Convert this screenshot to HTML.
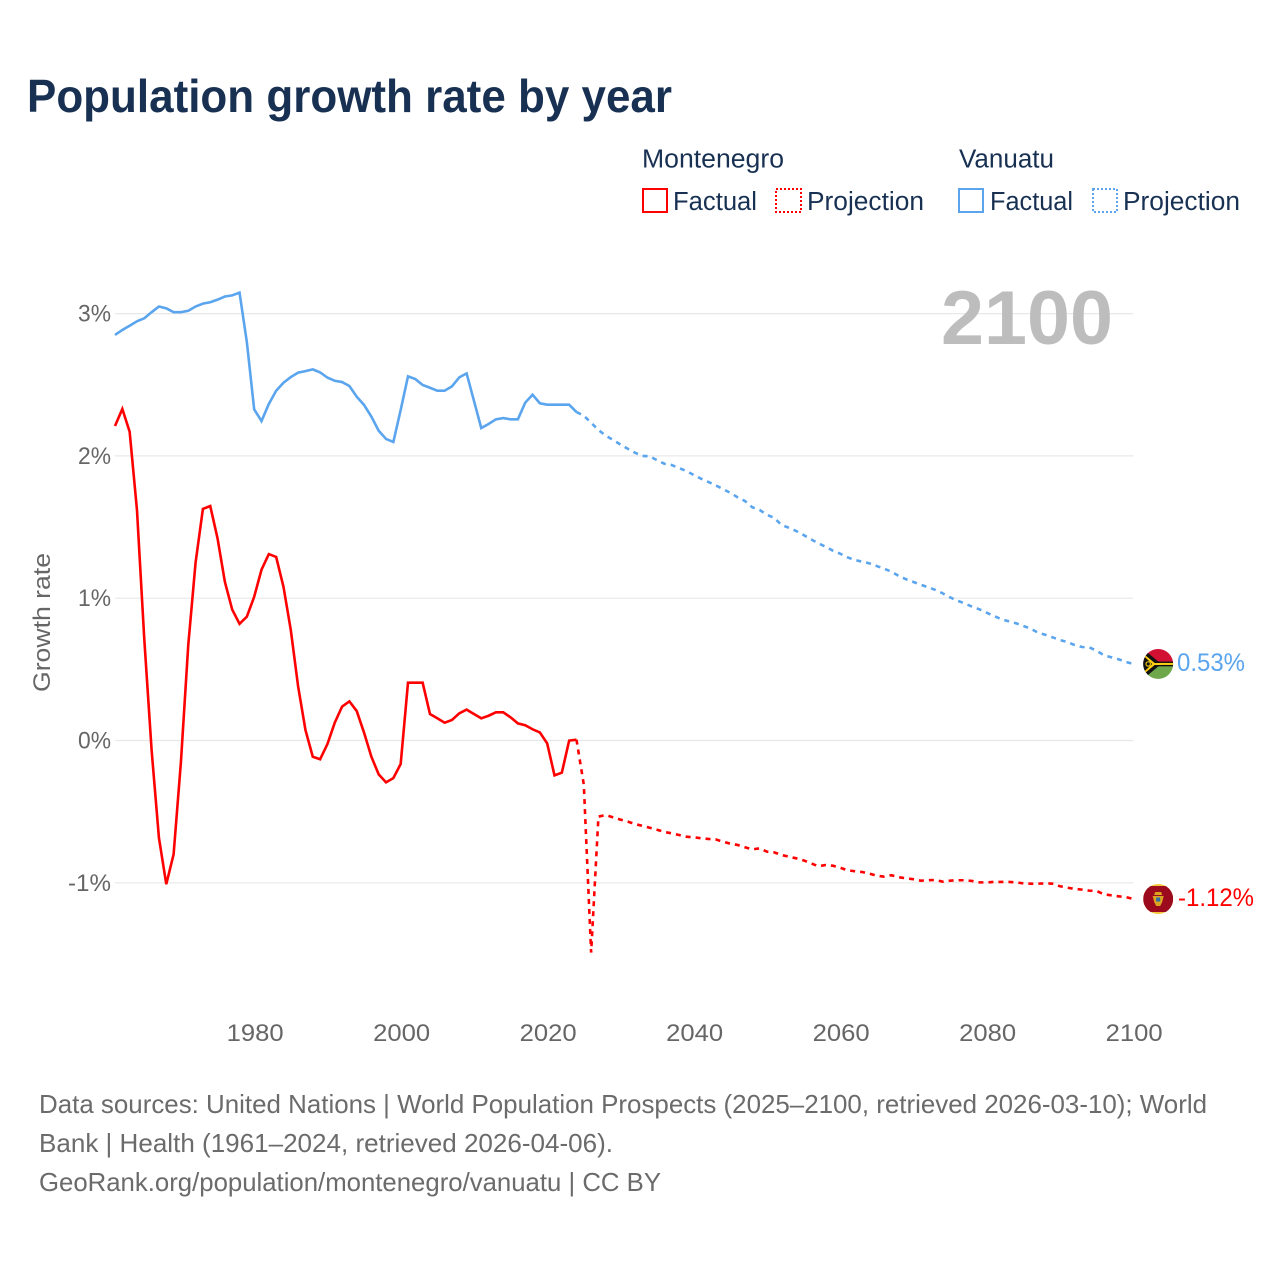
<!DOCTYPE html>
<html lang="en">
<head>
<meta charset="utf-8">
<title>Population growth rate by year</title>
<style>
html,body{margin:0;padding:0;background:#fff;}
svg{display:block;}
text{font-family:"Liberation Sans",sans-serif;}
</style>
</head>
<body>
<svg id="chart" xmlns="http://www.w3.org/2000/svg" width="1280" height="1280" viewBox="0 0 1280 1280">
  <rect x="0" y="0" width="1280" height="1280" fill="#ffffff"/>
  <text x="27" y="112" font-size="46" font-weight="700" fill="#183153" textLength="645" lengthAdjust="spacingAndGlyphs">Population growth rate by year</text>

  <g font-size="25.5" fill="#183153">
    <text x="642" y="167.5" textLength="142" lengthAdjust="spacingAndGlyphs">Montenegro</text>
    <rect x="643" y="189" width="24" height="23" fill="none" stroke="#ff0000" stroke-width="2"/>
    <text x="673" y="210" textLength="84" lengthAdjust="spacingAndGlyphs">Factual</text>
    <rect x="776" y="189" width="25" height="23" fill="none" stroke="#ff0000" stroke-width="2" stroke-dasharray="2 2"/>
    <text x="807" y="210" textLength="117" lengthAdjust="spacingAndGlyphs">Projection</text>
    <text x="959" y="167.5" textLength="95" lengthAdjust="spacingAndGlyphs">Vanuatu</text>
    <rect x="959" y="189" width="24" height="23" fill="none" stroke="#5ba5ee" stroke-width="2"/>
    <text x="990" y="210" textLength="83" lengthAdjust="spacingAndGlyphs">Factual</text>
    <rect x="1093" y="189" width="24" height="23" fill="none" stroke="#5ba5ee" stroke-width="2" stroke-dasharray="2 2"/>
    <text x="1123" y="210" textLength="117" lengthAdjust="spacingAndGlyphs">Projection</text>
  </g>

  <g id="grid"></g>
  <text x="941" y="344" font-size="76" font-weight="700" fill="#bdbdbd" textLength="172" lengthAdjust="spacingAndGlyphs">2100</text>
  <g id="yticks" font-size="24.5" fill="#666666" text-anchor="end"></g>
  <g id="xticks" font-size="24.5" fill="#666666" text-anchor="middle"></g>
  <text transform="translate(50,622.5) rotate(-90)" font-size="24.5" fill="#666666" text-anchor="middle" textLength="139" lengthAdjust="spacingAndGlyphs">Growth rate</text>

  <g id="series"></g>

  <defs>
    <clipPath id="flag-clip"><circle cx="0" cy="0" r="15"/></clipPath>
  </defs>
  <g id="flag-vanuatu">
    <g clip-path="url(#flag-clip)">
      <rect x="-15" y="-15" width="30" height="15" fill="#d21034"/>
      <rect x="-15" y="0" width="30" height="15" fill="#6fa84a"/>
      <rect x="-15" y="-2.4" width="30" height="4.8" fill="#111111"/>
      <rect x="-4" y="-1" width="19" height="2" fill="#fdce12"/>
      <path d="M-15 -15 L3 0 L-15 15 Z" fill="#111111"/>
      <path d="M-15 -10.5 L-3.5 -1 L3 -1 L3 1 L-3.5 1 L-15 10.5 L-15 8.5 L-6 0 L-15 -8.5 Z" fill="#fdce12"/>
      <circle cx="-10" cy="0" r="2.2" fill="none" stroke="#fdce12" stroke-width="1.1"/>
    </g>
  </g>
  <g id="flag-montenegro">
    <g clip-path="url(#flag-clip)">
      <rect x="-15" y="-15" width="30" height="30" fill="#f5c93f"/>
      <rect x="-15" y="-13" width="30" height="26" fill="#9c0a1e"/>
      <path d="M-3 -7 L3 -7 L4 -4 L-4 -4 Z" fill="#d9a520"/>
      <path d="M-5.5 -3 L5.5 -3 L4 3 L2 7 L-2 7 L-4 3 Z" fill="#d9a520"/>
      <rect x="-2" y="-1.5" width="4" height="4" fill="#2e6fa8"/>
    </g>
  </g>
  <text id="end-label-vanuatu" font-size="25" fill="#5ba5ee" textLength="68" lengthAdjust="spacingAndGlyphs"></text>
  <text id="end-label-montenegro" font-size="25" fill="#ff0000" textLength="76" lengthAdjust="spacingAndGlyphs"></text>

  <g font-size="26" fill="#6b6b6b">
    <text x="39" y="1113" textLength="1168" lengthAdjust="spacingAndGlyphs">Data sources: United Nations | World Population Prospects (2025–2100, retrieved 2026-03-10); World</text>
    <text x="39" y="1152" textLength="574" lengthAdjust="spacingAndGlyphs">Bank | Health (1961–2024, retrieved 2026-04-06).</text>
    <text x="39" y="1191" textLength="622" lengthAdjust="spacingAndGlyphs">GeoRank.org/population/montenegro/vanuatu | CC BY</text>
  </g>
</svg>
<script>
const factualStartYear = 1961;
const projectionStartYear = 2024;
const xTickYears = [1980, 2000, 2020, 2040, 2060, 2080, 2100];
const xTickLabels = ["1980", "2000", "2020", "2040", "2060", "2080", "2100"];
const yTickValues = [3, 2, 1, 0, -1];
const yTickLabels = ["3%", "2%", "1%", "0%", "-1%"];
const endLabels = ["0.53%", "-1.12%"];

const montenegroFactual = [2.21,2.33,2.17,1.62,0.71,-0.07,-0.685,-1.01,-0.80,-0.15,0.67,1.25,1.627,1.648,1.42,1.115,0.92,0.82,0.87,1.01,1.2,1.31,1.29,1.08,0.776,0.38,0.074,-0.114,-0.132,-0.025,0.125,0.238,0.275,0.207,0.055,-0.114,-0.238,-0.294,-0.264,-0.165,0.406,0.406,0.406,0.186,0.156,0.125,0.144,0.191,0.217,0.186,0.156,0.174,0.198,0.198,0.163,0.12,0.107,0.079,0.057,-0.02,-0.245,-0.226,-0.001,0.006];
const montenegroProjection = [0.006,-0.31,-1.49,-0.535,-0.524,-0.54,-0.556,-0.57,-0.587,-0.6,-0.613,-0.627,-0.643,-0.652,-0.664,-0.676,-0.68,-0.687,-0.692,-0.695,-0.711,-0.725,-0.734,-0.75,-0.765,-0.758,-0.781,-0.786,-0.805,-0.816,-0.828,-0.842,-0.863,-0.884,-0.875,-0.88,-0.894,-0.912,-0.919,-0.924,-0.936,-0.95,-0.957,-0.947,-0.961,-0.968,-0.975,-0.985,-0.982,-0.98,-0.992,-0.985,-0.982,-0.982,-0.987,-0.997,-0.997,-0.994,-0.994,-0.994,-0.997,-1.004,-1.006,-1.006,-1.004,-1.006,-1.024,-1.034,-1.043,-1.048,-1.055,-1.057,-1.081,-1.088,-1.095,-1.1,-1.114];
const vanuatuFactual = [2.85,2.885,2.915,2.946,2.967,3.01,3.05,3.037,3.01,3.01,3.02,3.05,3.07,3.08,3.098,3.12,3.128,3.147,2.80,2.327,2.245,2.365,2.458,2.514,2.554,2.585,2.596,2.608,2.587,2.55,2.528,2.519,2.491,2.416,2.358,2.276,2.177,2.119,2.098,2.323,2.559,2.54,2.498,2.479,2.458,2.458,2.489,2.552,2.58,2.388,2.196,2.224,2.257,2.266,2.257,2.257,2.374,2.43,2.37,2.36,2.36,2.36,2.36,2.308];
const vanuatuProjection = [2.308,2.283,2.233,2.182,2.142,2.112,2.08,2.05,2.022,2.0,1.997,1.97,1.945,1.936,1.915,1.894,1.866,1.84,1.817,1.793,1.767,1.741,1.709,1.683,1.639,1.62,1.587,1.564,1.514,1.495,1.472,1.444,1.414,1.386,1.362,1.334,1.313,1.287,1.268,1.257,1.245,1.226,1.207,1.186,1.156,1.133,1.114,1.095,1.077,1.058,1.034,1.006,0.982,0.964,0.94,0.922,0.898,0.875,0.852,0.838,0.824,0.805,0.786,0.758,0.743,0.725,0.706,0.692,0.671,0.657,0.655,0.631,0.599,0.585,0.571,0.552,0.538];

const SVG_NS = "http://www.w3.org/2000/svg";
function xScale(year) { return 115 + (year - 1961) * 7.325; }
function yScale(value) { return 740.5 - value * 142.3; }
function toPoints(values, startYear) {
  return values.map(function (v, i) {
    return xScale(startYear + i).toFixed(2) + "," + yScale(v).toFixed(2);
  }).join(" ");
}

const gridGroup = document.getElementById("grid");
const yTickGroup = document.getElementById("yticks");
yTickValues.forEach(function (value, i) {
  const line = document.createElementNS(SVG_NS, "line");
  
  
  line.setAttribute("x1", xScale(1961));
  line.setAttribute("x2", xScale(2100));
  line.setAttribute("y1", yScale(value));
  line.setAttribute("y2", yScale(value));
  line.setAttribute("stroke", "#e8e8e8");
  line.setAttribute("stroke-width", "1.2");
  gridGroup.appendChild(line);

  const label = document.createElementNS(SVG_NS, "text");
  
  
  label.setAttribute("x", 111);
  label.setAttribute("y", yScale(value) + 8);
  label.setAttribute("textLength", yTickLabels[i].length === 3 ? 43 : 33);
  label.setAttribute("lengthAdjust", "spacingAndGlyphs");
  label.textContent = yTickLabels[i];
  yTickGroup.appendChild(label);
});

const xTickGroup = document.getElementById("xticks");
xTickYears.forEach(function (year, i) {
  const label = document.createElementNS(SVG_NS, "text");
  
  
  label.setAttribute("x", xScale(year) + 1);
  label.setAttribute("y", 1041);
  label.setAttribute("textLength", 57);
  label.setAttribute("lengthAdjust", "spacingAndGlyphs");
  label.textContent = xTickLabels[i];
  xTickGroup.appendChild(label);
});

const seriesGroup = document.getElementById("series");
function addLine(name, values, startYear, color, dashed) {
  const line = document.createElementNS(SVG_NS, "polyline");
  
  
  line.setAttribute("points", toPoints(values, startYear));
  line.setAttribute("fill", "none");
  line.setAttribute("stroke", color);
  line.setAttribute("stroke-width", "2.6");
  line.setAttribute("stroke-linejoin", "miter");
  if (dashed) { line.setAttribute("stroke-dasharray", "5 5"); }
  seriesGroup.appendChild(line);
}
addLine("vanuatu-projection-line", vanuatuProjection, projectionStartYear, "#5ba5ee", true);
addLine("vanuatu-factual-line", vanuatuFactual, factualStartYear, "#5ba5ee", false);
addLine("montenegro-projection-line", montenegroProjection, projectionStartYear, "#ff0000", true);
addLine("montenegro-factual-line", montenegroFactual, factualStartYear, "#ff0000", false);

function placeEnd(flagId, labelId, values, text, labelX) {
  const endY = yScale(values[values.length - 1]);
  document.getElementById(flagId).setAttribute("transform", "translate(" + (xScale(2100) + 25) + "," + endY + ")");
  const label = document.getElementById(labelId);
  label.setAttribute("x", labelX);
  label.setAttribute("y", endY + 7);
  label.textContent = text;
}
placeEnd("flag-vanuatu", "end-label-vanuatu", vanuatuProjection, endLabels[0], 1177);
placeEnd("flag-montenegro", "end-label-montenegro", montenegroProjection, endLabels[1], 1178);
</script>
</body>
</html>
